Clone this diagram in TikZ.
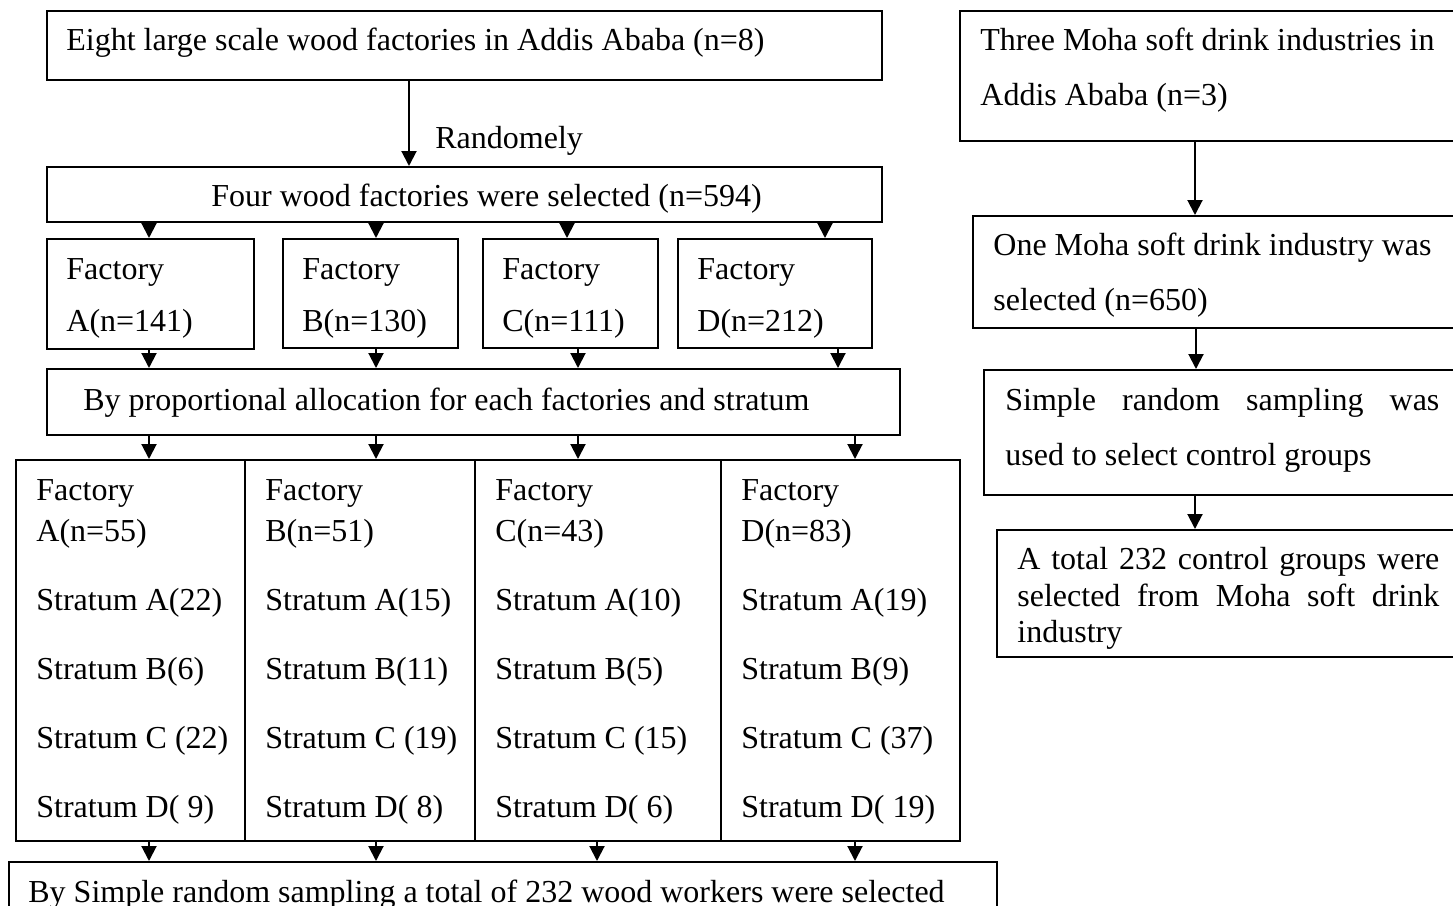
\documentclass[tikz,border=0pt]{standalone}
\usepackage{fontspec}
\setmainfont{Liberation Serif}
\usetikzlibrary{arrows.meta}

\tikzset{
  bx/.style 2 args={draw, line width=1pt, anchor=north west, inner sep=0pt,
    minimum width=#1*0.5pt, minimum height=#2*0.5pt},
  txt/.style={anchor=base west, inner sep=0pt},
  arr/.style={line width=1pt, -{Triangle[length=7.5pt, width=7.5pt]}},
}

\begin{document}
\begin{tikzpicture}[x=0.5pt, y=-0.5pt, font=\fontsize{16pt}{19pt}\selectfont]
  \useasboundingbox (0,0) rectangle (1453,906);
  \clip (0,0) rectangle (1453,906);

  % wood factories
  \node[bx={835}{69}] (eight) at (46,10) {};
  \node[bx={835}{55}] (four) at (46,166) {};
  \node[bx={207}{110}] (fa) at (46,238) {};
  \node[bx={175}{109}] (fb) at (282,238) {};
  \node[bx={175}{109}] (fc) at (482,238) {};
  \node[bx={194}{109}] (fd) at (677,238) {};
  \node[bx={853}{66}] (prop) at (46,368) {};
  \node[bx={229}{381}] (sa) at (15,459) {};
  \node[bx={230}{381}] (sb) at (244,459) {};
  \node[bx={246}{381}] (sc) at (474,459) {};
  \node[bx={239}{381}] (sd) at (720,459) {};
  \node[bx={988}{70}] (total) at (8,861) {};

  \node[txt] (eight-t) at (66,50) {Eight large scale wood factories in Addis Ababa (n=8)};
  \node[txt] (four-t) at (211,206) {Four wood factories were selected (n=594)};
  \node[txt] (prop-t) at (83,410) {By proportional allocation for each factories and stratum};
  \node[txt] (total-t) at (28,902) {By Simple random sampling a total of 232 wood workers were selected};
  \node[txt] (rnd) at (435,148) {Randomely};

  \foreach \x/\fn [count=\i] in {66/A(n=141), 302/B(n=130), 502/C(n=111), 697/D(n=212)} {
    \node[txt] (f\i-1) at (\x,279) {Factory};
    \node[txt] (f\i-2) at (\x,331) {\fn};
  }

  \foreach \x/\fn/\pa/\pb/\pc/\pd [count=\i] in {
      36/A(n=55)/A(22)/B(6)/C (22)/D( 9),
      265/B(n=51)/A(15)/B(11)/C (19)/D( 8),
      495/C(n=43)/A(10)/B(5)/C (15)/D( 6),
      741/D(n=83)/A(19)/B(9)/C (37)/D( 19)} {
    \node[txt] (s\i-1) at (\x,500) {Factory};
    \node[txt] (s\i-2) at (\x,541) {\fn};
    \node[txt] (s\i-3) at (\x,610) {Stratum \pa};
    \node[txt] (s\i-4) at (\x,679) {Stratum \pb};
    \node[txt] (s\i-5) at (\x,748) {Stratum \pc};
    \node[txt] (s\i-6) at (\x,817) {Stratum \pd};
  }

  \draw[arr] (eight.south -| 409,0) -- (four.north -| 409,0);
  \draw[arr] (four.south -| 149,0) -- (fa.north -| 149,0);
  \draw[arr] (four.south -| 376,0) -- (fb.north -| 376,0);
  \draw[arr] (four.south -| 567,0) -- (fc.north -| 567,0);
  \draw[arr] (four.south -| 825,0) -- (fd.north -| 825,0);
  \draw[arr] (fa.south -| 149,0) -- (prop.north -| 149,0);
  \draw[arr] (fb.south -| 376,0) -- (prop.north -| 376,0);
  \draw[arr] (fc.south -| 578,0) -- (prop.north -| 578,0);
  \draw[arr] (fd.south -| 838,0) -- (prop.north -| 838,0);
  \draw[arr] (prop.south -| 149,0) -- (sa.north -| 149,0);
  \draw[arr] (prop.south -| 376,0) -- (sb.north -| 376,0);
  \draw[arr] (prop.south -| 578,0) -- (sc.north -| 578,0);
  \draw[arr] (prop.south -| 855,0) -- (sd.north -| 855,0);
  \draw[arr] (sa.south -| 149,0) -- (total.north -| 149,0);
  \draw[arr] (sb.south -| 376,0) -- (total.north -| 376,0);
  \draw[arr] (sc.south -| 597,0) -- (total.north -| 597,0);
  \draw[arr] (sd.south -| 855,0) -- (total.north -| 855,0);

  % soft drink industry
  \node[bx={520}{130}] (r1) at (959,10) {};
  \node[bx={520}{112}] (r2) at (972,215) {};
  \node[bx={520}{125}] (r3) at (983,369) {};
  \node[bx={520}{127}] (r4) at (996,529) {};

  \node[txt] (r1-1) at (980,50) {Three Moha soft drink industries in};
  \node[txt] (r1-2) at (980,105) {Addis Ababa (n=3)};
  \node[txt] (r2-1) at (993,255) {One Moha soft drink industry was};
  \node[txt] (r2-2) at (993,310) {selected (n=650)};
  \node[txt] (r3-1) at (1005,410) {\makebox[217pt][s]{Simple random sampling was}};
  \node[txt] (r3-2) at (1005,465) {used to select control groups};
  \node[txt] (r4-1) at (1017,569) {\makebox[211pt][s]{A total 232 control groups were}};
  \node[txt] (r4-2) at (1017,606) {\makebox[211pt][s]{selected from Moha soft drink}};
  \node[txt] (r4-3) at (1017,642) {industry};

  \draw[arr] (r1.south -| 1195,0) -- (r2.north -| 1195,0);
  \draw[arr] (r2.south -| 1196,0) -- (r3.north -| 1196,0);
  \draw[arr] (r3.south -| 1195,0) -- (r4.north -| 1195,0);
\end{tikzpicture}
\end{document}
